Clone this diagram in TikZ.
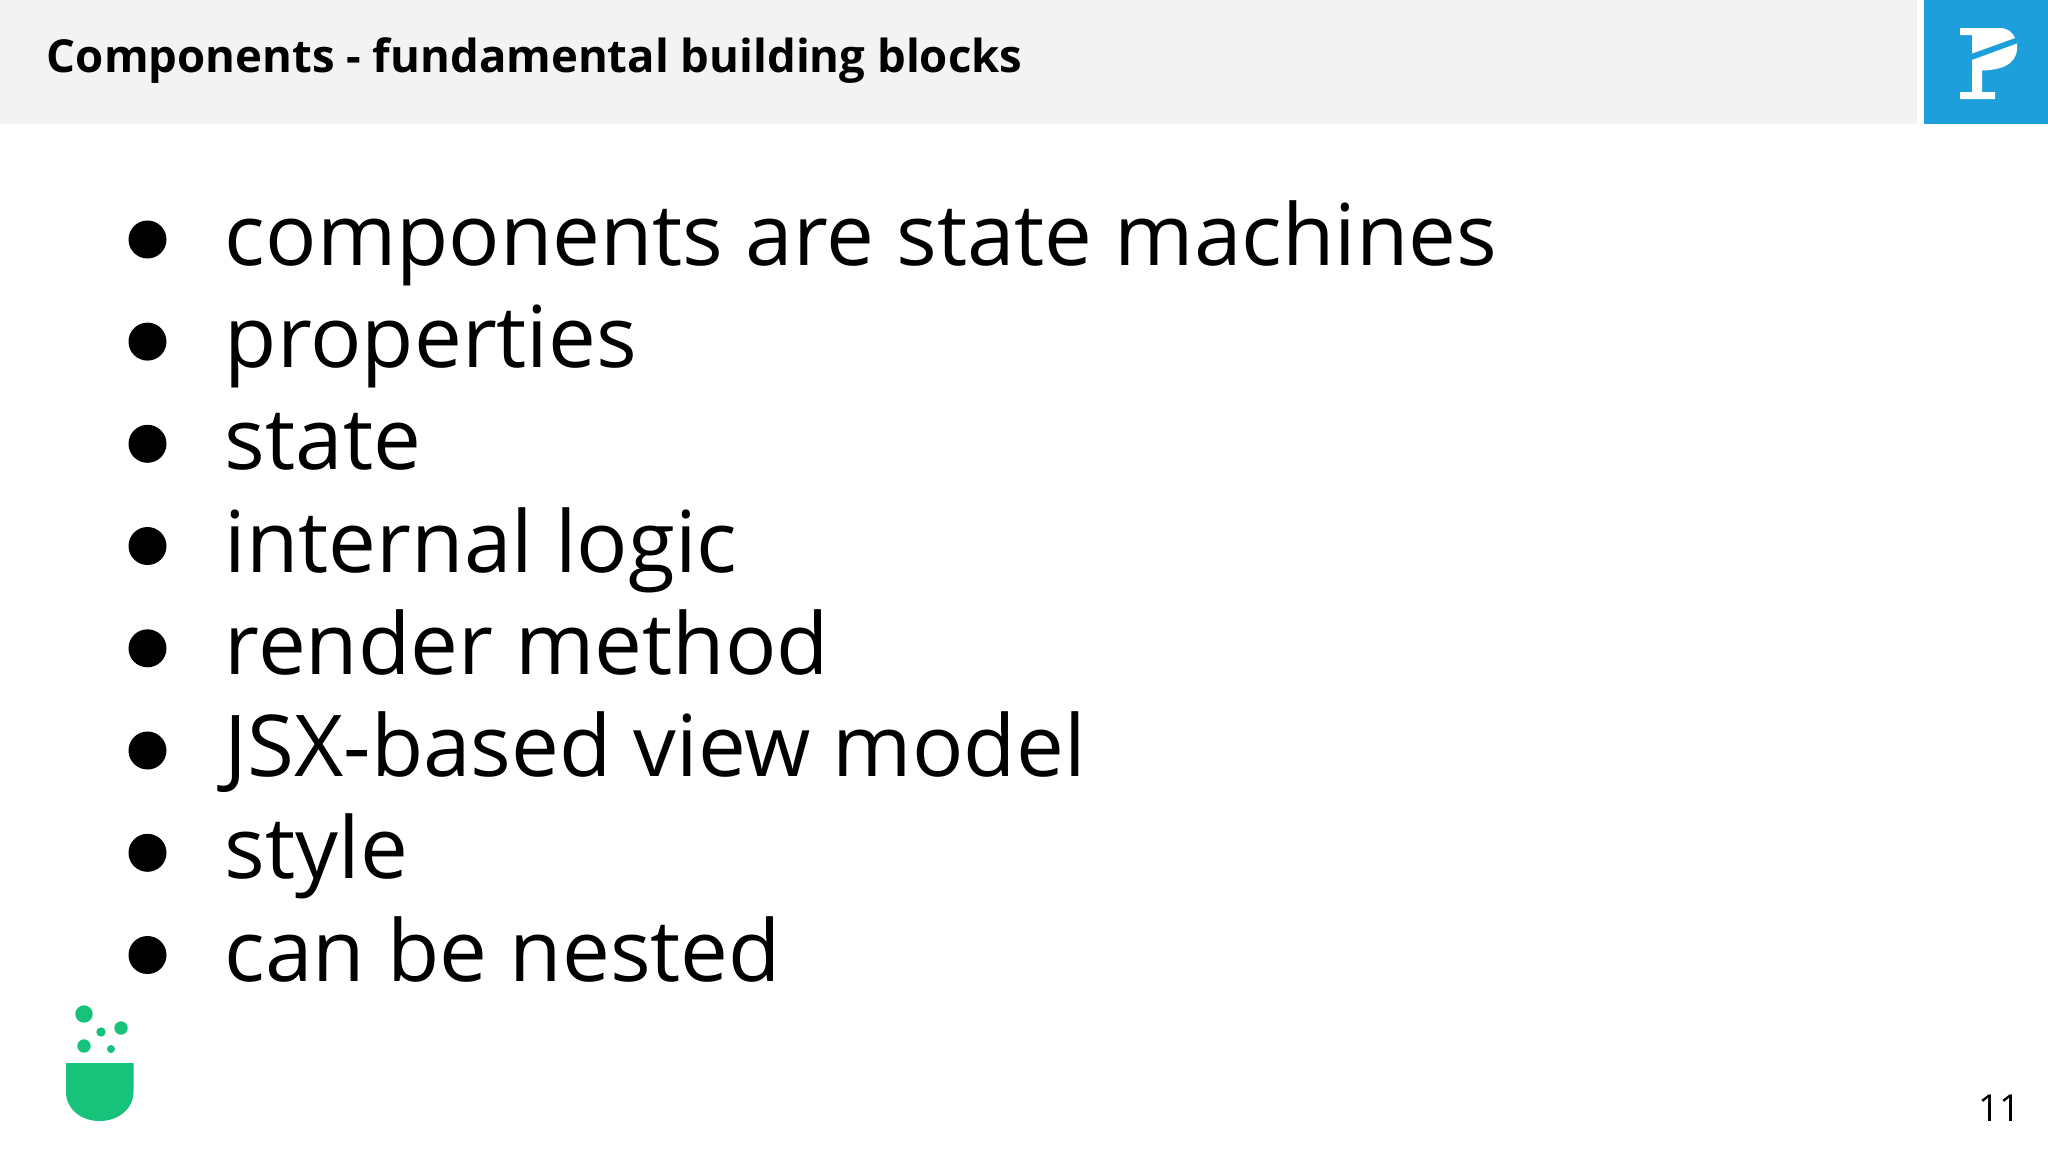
\documentclass[tikz,border=0pt]{standalone}
\usepackage{fontspec}
\setmainfont{Open Sans}
\definecolor{headbg}{HTML}{F3F3F3}
\definecolor{logoblue}{HTML}{1C9FDB}
\definecolor{flask}{HTML}{17C37B}
\tikzset{
  item/.style={anchor=base west,inner sep=0pt,font=\fontsize{42.66}{50}\selectfont,text=black},
  dot/.style={fill=black,draw=none},
  bub/.style={fill=flask,draw=none},
}
\begin{document}
\begin{tikzpicture}[x=0.5pt,y=-0.5pt]
\useasboundingbox (0,0) rectangle (2048,1152);
\fill[white] (0,0) rectangle (2048,1152);
\fill[headbg] (0,0) rectangle (1917,124);
\fill[logoblue] (1924,0) rectangle (2048,124);
% logo
\fill[white] (1960,28) -- (2000,28) .. controls (2008,28) and (2013,33) .. (2015,38) -- (1972,53.5) -- (1972,35) -- (1960,35) -- cycle;
\fill[white] (1972,60) -- (2017,43.5) .. controls (2019,60) and (2008,70) .. (1982,70.5) -- (1982,92) -- (1995,92) -- (1995,99) -- (1960,99) -- (1960,92) -- (1972,92) -- cycle;
\node[anchor=base west,inner sep=0pt,font=\fontsize{22.74}{26}\selectfont\bfseries] (title) at (46.5,72.5) {Components - fundamental building blocks};
\foreach \n/\yy/\tx/\t in {a/265.5/224.5/components are state machines,b/367.6/224.5/properties,c/469.8/224.5/state,d/572/224.5/internal logic,e/674.3/224.5/render method,f/776.5/224.5/JSX-based view model,g/878.8/224.5/style,h/981/224.5/can be nested}{
  \fill[dot] (147.5,\yy-26) circle (19);
  \node[item] (\n) at (\tx,\yy) {\t};
}
% flask
\fill[bub] (84,1014) circle (8.7);
\fill[bub] (121,1028) circle (6.7);
\fill[bub] (101,1032) circle (4.7);
\fill[bub] (84,1046) circle (6.7);
\fill[bub] (111,1049) circle (4);
\fill[bub] (66,1063) -- (133.5,1063) -- (133.5,1092) .. controls (133.5,1109) and (118,1121) .. (99.7,1121) .. controls (81,1121) and (66,1109) .. (66,1092) -- cycle;
\node[anchor=base east,inner sep=0pt,font=\fontsize{18.6}{22}\selectfont] (num) at (2021,1121) {11};
\end{tikzpicture}
\end{document}
